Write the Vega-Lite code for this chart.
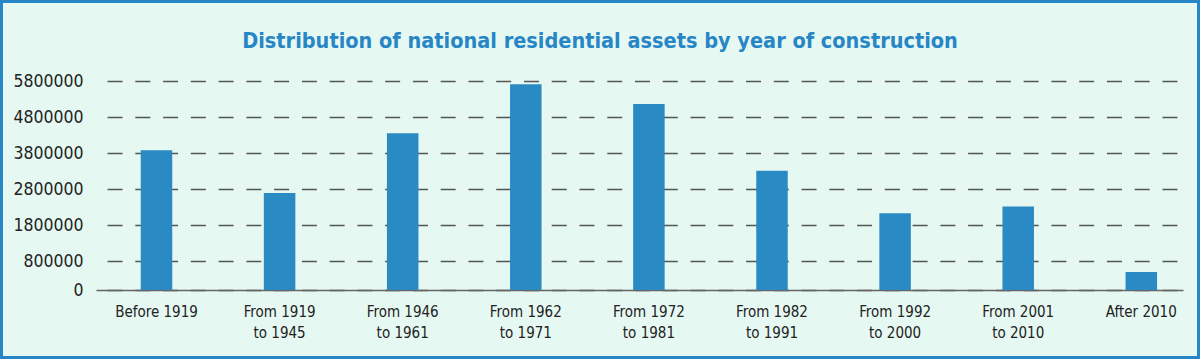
{
  "$schema": "https://vega.github.io/schema/vega-lite/v6.json",
  "width": 1200,
  "height": 359,
  "autosize": {"type": "none"},
  "padding": 0,
  "background": "#e6f8f2",
  "title": {
    "text": "Distribution of national residential assets by year of construction",
    "font": "DejaVu Sans Condensed, sans-serif",
    "fontSize": 21.5,
    "fontWeight": "bold",
    "color": "#2686c6",
    "anchor": "middle",
    "baseline": "alphabetic",
    "offset": -69
  },
  "data": {
    "values": [
      {"period": "Before 1919", "assets": 3880000},
      {"period": "From 1919 to 1945", "assets": 2690000},
      {"period": "From 1946 to 1961", "assets": 4350000},
      {"period": "From 1962 to 1971", "assets": 5710000},
      {"period": "From 1972 to 1981", "assets": 5160000},
      {"period": "From 1982 to 1991", "assets": 3310000},
      {"period": "From 1992 to 2000", "assets": 2130000},
      {"period": "From 2001 to 2010", "assets": 2320000},
      {"period": "After 2010", "assets": 500000}
    ]
  },
  "mark": {"type": "bar", "color": "#2a8bc4"},
  "encoding": {
    "x": {
      "field": "period",
      "type": "nominal",
      "sort": null,
      "scale": {"range": [96, 1183], "paddingInner": 0.744, "paddingOuter": 0.287, "align": 0.633},
      "axis": {
        "title": null,
        "orient": "bottom",
        "offset": -69,
        "labelAngle": 0,
        "labelExpr": "split(replace(datum.value, ' to ', '|to '), '|')",
        "labelFont": "DejaVu Sans Condensed, sans-serif",
        "labelFontSize": 15,
        "labelColor": "#222222",
        "labelLineHeight": 21,
        "labelPadding": 14,
        "ticks": false,
        "domainColor": "#666666",
        "domainWidth": 1.5,
        "grid": false
      }
    },
    "y": {
      "field": "assets",
      "type": "quantitative",
      "scale": {"domain": [0, 5800000], "range": [290, 81], "nice": false},
      "axis": {
        "title": null,
        "orient": "left",
        "offset": -96,
        "values": [0, 800000, 1800000, 2800000, 3800000, 4800000, 5800000],
        "format": "d",
        "labelFont": "DejaVu Sans Condensed, sans-serif",
        "labelFontSize": 17.5,
        "labelColor": "#222222",
        "labelPadding": 13,
        "ticks": false,
        "domain": false,
        "grid": true,
        "gridColor": "#555555",
        "gridWidth": 1.5,
        "gridDash": [15, 12.76],
        "gridDashOffset": 16.7
      }
    }
  },
  "config": {
    "view": {"fill": "#e6f8f2", "stroke": "#2686c6", "strokeWidth": 6}
  }
}
